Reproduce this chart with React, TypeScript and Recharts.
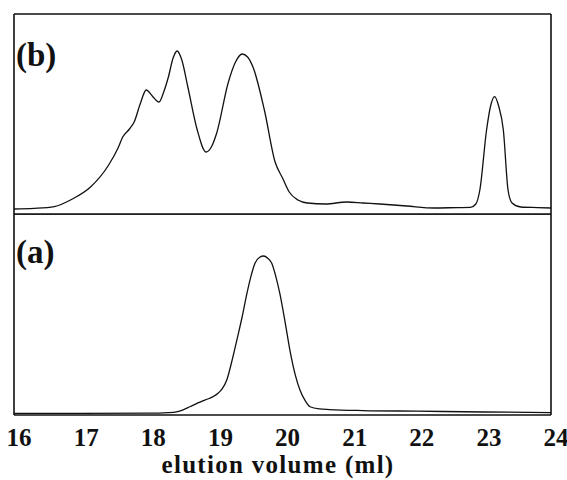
import React from "react";
import { LineChart, Line, XAxis, YAxis, ReferenceLine, Label } from "recharts";

// elution volume (ml) and detector response (relative units, 0-100)
const volumesB = [
  16.0, 16.3, 16.6, 16.87, 17.14, 17.41, 17.55, 17.62, 17.72, 17.79, 17.88, 17.97, 18.06, 18.16,
  18.23, 18.3, 18.37, 18.43, 18.5, 18.59, 18.73, 18.86, 18.94, 19.02, 19.19, 19.3, 19.4, 19.48,
  19.56, 19.73, 19.89, 20.0, 20.1, 20.23, 20.37, 20.64, 20.96, 21.2, 21.45, 21.85, 22.26, 22.6,
  22.8, 22.88, 22.94, 23.04, 23.1, 23.16, 23.22, 23.29, 23.36, 23.42, 23.55, 23.8, 24.0,
];
const signalB = [
  2.5, 2.8, 3.7, 7.5, 13.5, 24.5, 33, 38.5, 42.5, 46, 55, 62, 59, 56,
  61, 68.5, 78, 81.5, 77, 63.5, 42, 31, 33.5, 40.5, 65.5, 76, 80, 78.5,
  73.5, 52, 26, 18, 11, 7, 5.5, 5, 6, 5.5, 5, 4, 3, 3.2,
  3.3, 5, 12, 42, 54, 58.7, 54, 42, 12, 5.5, 3.5, 3.2, 3,
];

const volumesA = [
  16.0, 17.0, 18.0, 18.3, 18.42, 18.52, 18.62, 18.74, 18.85, 18.96, 19.04, 19.1, 19.17, 19.24,
  19.32, 19.4, 19.47, 19.53, 19.59, 19.66, 19.72, 19.78, 19.84, 19.9, 19.96, 20.04, 20.11, 20.19,
  20.26, 20.34, 20.41, 20.55, 20.7, 21.2, 22.0, 23.0, 24.0,
];
const signalA = [
  0.8, 0.8, 0.9, 1.2, 1.6, 2.6, 4.1, 6, 7.5, 9, 10.8, 13, 17.4, 26,
  37.3, 49, 60.5, 69, 75.5, 78.5, 79.1, 78, 75.5, 69, 60.5, 46, 32.3, 20,
  12.4, 7, 4.1, 3, 2.7, 2.2, 1.9, 1.5, 1.2,
];

const xTicks = [16, 17, 18, 19, 20, 21, 22, 23, 24];

const traceB = volumesB.map((v, i) => ({ v, s: signalB[i] }));
const traceA = volumesA.map((v, i) => ({ v, s: signalA[i] }));

const FONT = "'Liberation Serif', 'Times New Roman', serif";
const X0 = 16;
const X1 = 24;

function Frame() {
  const line = { stroke: "#111", strokeWidth: 1.6, ifOverflow: "visible" as const };
  return [
    <ReferenceLine key="t" segment={[{ x: X0, y: 100 }, { x: X1, y: 100 }]} {...line} />,
    <ReferenceLine key="b" segment={[{ x: X0, y: 0 }, { x: X1, y: 0 }]} {...line} />,
    <ReferenceLine key="l" segment={[{ x: X0, y: 0 }, { x: X0, y: 100 }]} {...line} />,
    <ReferenceLine key="r" segment={[{ x: X1, y: 0 }, { x: X1, y: 100 }]} {...line} />,
  ];
}

const VolumeTick = (props: any) => (
  <text
    x={props.x + 5}
    y={232}
    textAnchor="middle"
    fontFamily={FONT}
    fontWeight="bold"
    fontSize={25}
    fill="#111"
  >
    {props.payload.value}
  </text>
);

export default function App() {
  return (
    <div style={{ position: "absolute", left: 0, top: 0, width: 567, height: 480, background: "#fff" }}>
      <div style={{ position: "absolute", left: 0, top: 0 }}>
        <LineChart width={567} height={215} data={traceB} margin={{ top: 14, right: 16, bottom: 1, left: 14 }}>
          <XAxis dataKey="v" type="number" domain={[X0, X1]} hide />
          <YAxis type="number" domain={[0, 100]} hide />
          {Frame()}
          <Line
            dataKey="s"
            type="monotone"
            stroke="#111"
            strokeWidth={1.3}
            dot={false}
            isAnimationActive={false}
          />
        </LineChart>
      </div>
      <div style={{ position: "absolute", left: 0, top: 214 }}>
        <LineChart width={567} height={266} data={traceA} margin={{ top: 0, right: 16, bottom: 0, left: 14 }}>
          <XAxis
            dataKey="v"
            type="number"
            domain={[X0, X1]}
            ticks={xTicks}
            height={65}
            axisLine={false}
            tickLine={false}
            tick={<VolumeTick />}
            interval={0}
          >
            <Label
              content={() => (
                <text
                  x={278}
                  y={259}
                  textAnchor="middle"
                  fontFamily={FONT}
                  fontWeight="bold"
                  fontSize={25}
                  letterSpacing={1.3}
                  fill="#111"
                >
                  elution volume (ml)
                </text>
              )}
            />
          </XAxis>
          <YAxis type="number" domain={[0, 100]} hide />
          {Frame()}
          <Line
            dataKey="s"
            type="monotone"
            stroke="#111"
            strokeWidth={1.3}
            dot={false}
            isAnimationActive={false}
          />
        </LineChart>
      </div>
      <svg width={567} height={480} style={{ position: "absolute", left: 0, top: 0, pointerEvents: "none" }}>
        <text x={16} y={66} fontFamily={FONT} fontWeight="bold" fontSize={33} fill="#111">
          (b)
        </text>
        <text x={16} y={263} fontFamily={FONT} fontWeight="bold" fontSize={33} fill="#111">
          (a)
        </text>
      </svg>
    </div>
  );
}
